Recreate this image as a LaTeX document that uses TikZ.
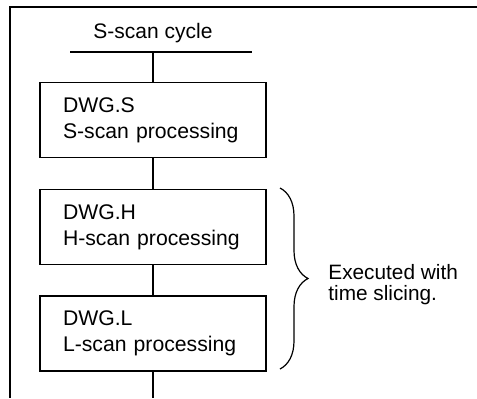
\documentclass[tikz,border=0pt]{standalone}
\usepackage{fontspec}
\setmainfont{Liberation Sans}
\usetikzlibrary{positioning,decorations.pathreplacing}

\begin{document}
\begin{tikzpicture}
  [procN/.style={draw,line width=0.6pt,minimum width=113pt,minimum height=37.5pt,
                 text width=90pt,inner xsep=11.5pt,inner ysep=2pt,align=left,
                 font=\fontsize{10.6}{13}\selectfont},
   lineN/.style={line width=0.6pt},
   node distance=15.5pt]

  \useasboundingbox (0,0) rectangle (238.5pt,-199pt);

  % frame
  \draw[lineN] (238.5pt,-3.5pt) -- (5pt,-3.5pt) -- (5pt,-199pt);

  \node (cyc) at (76.5pt,-16.5pt) {\fontsize{10.5}{12}\selectfont S-scan cycle};
  \coordinate (barL) at (35pt,-26pt);
  \coordinate (barR) at (126pt,-26pt);
  \coordinate (barM) at (76.5pt,-26pt);

  \node[procN] (s) at (76.5pt,-60pt) {DWG.S\\S-scan processing};
  \node[procN] (h) [below=of s]           {DWG.H\\H-scan processing};
  \node[procN] (l) [below=15pt of h]      {DWG.L\\L-scan processing};
  \coordinate (endP) at (76.5pt,-199pt);

  \draw[lineN] (barL) -- (barR);
  \draw[lineN] (barM) -- (s);
  \draw[lineN] (s) -- (h);
  \draw[lineN] (h) -- (l);
  \draw[lineN] (l) -- (endP);

  % time slicing
  \coordinate (brT) at (140pt,-94pt);
  \coordinate (brB) at (140pt,-184.5pt);
  \draw[lineN,decorate,decoration={brace,amplitude=14pt}] (brT) -- (brB);
  \node[anchor=west,align=left,inner sep=0pt,font=\fontsize{10.4}{10.5}\selectfont]
    (note) at (164pt,-142.5pt) {Executed with\\time slicing.};
\end{tikzpicture}
\end{document}
